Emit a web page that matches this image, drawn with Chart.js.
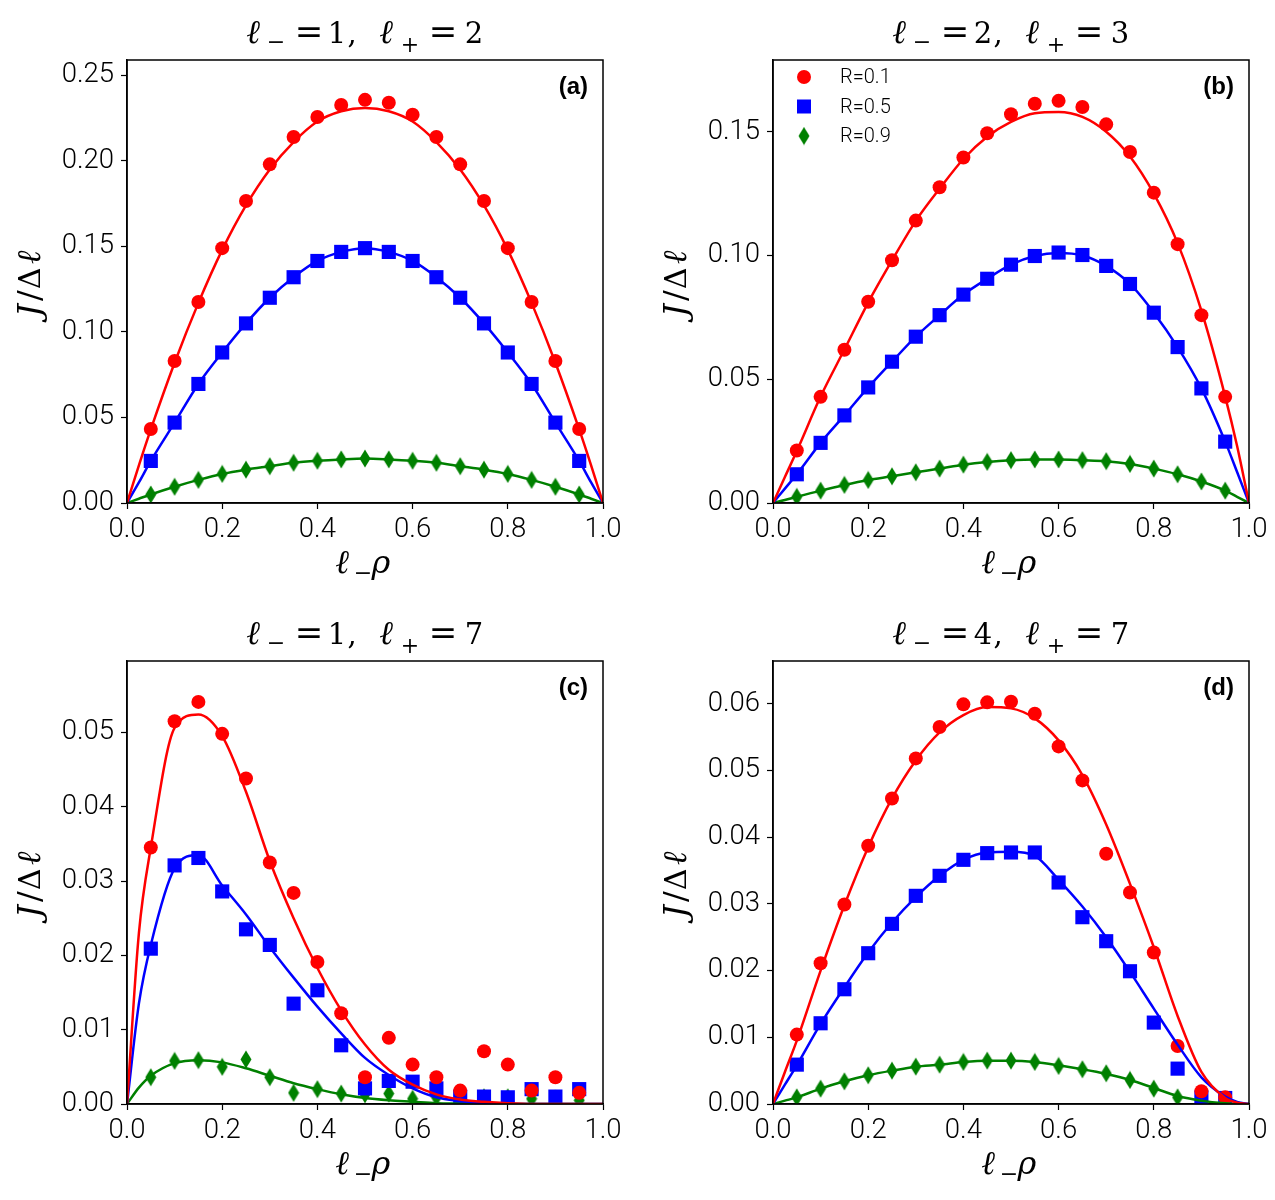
<!DOCTYPE html>
<html>
<head>
<meta charset="utf-8">
<script src="https://cdn.jsdelivr.net/npm/chart.js@4.4.1/dist/chart.umd.min.js"></script>
<style>
  body { margin: 0; background: #fff; width: 1275px; height: 1200px; position: relative; overflow: hidden; }
  canvas.panel { position: absolute; }
</style>
</head>
<body>
<canvas id="pa" class="panel" width="637" height="600" style="left:0px;top:0px"></canvas>
<canvas id="pb" class="panel" width="638" height="600" style="left:637px;top:0px"></canvas>
<canvas id="pc" class="panel" width="637" height="600" style="left:0px;top:600px"></canvas>
<canvas id="pd" class="panel" width="638" height="600" style="left:637px;top:600px"></canvas>
<script>
// x positions of the simulation points and of the theory curves
var xMarks = [0.05, 0.1, 0.15, 0.2, 0.25, 0.3, 0.35, 0.4, 0.45, 0.5, 0.55, 0.6, 0.65, 0.7, 0.75, 0.8, 0.85, 0.9, 0.95];
var xCurve = [0, 0.025, 0.05, 0.1, 0.15, 0.2, 0.25, 0.3, 0.35, 0.4, 0.45, 0.5, 0.55, 0.6, 0.65, 0.7, 0.75, 0.8, 0.85, 0.9, 0.95, 0.975, 1];
var xTicks = [0, 0.2, 0.4, 0.6, 0.8, 1.0];
var seriesLabels = ['R=0.1', 'R=0.5', 'R=0.9'];

// (a) l- = 1, l+ = 2
var aRed   = [0.0433, 0.083, 0.1175, 0.149, 0.1766, 0.198, 0.214, 0.2257, 0.2327, 0.2357, 0.234, 0.227, 0.214, 0.198, 0.1766, 0.149, 0.1175, 0.083, 0.0433];
var aBlue  = [0.0246, 0.047, 0.0696, 0.088, 0.105, 0.120, 0.132, 0.1415, 0.1468, 0.149, 0.1468, 0.1415, 0.132, 0.120, 0.105, 0.088, 0.0696, 0.047, 0.0246];
var aGreen = [0.005, 0.0095, 0.0135, 0.017, 0.0195, 0.0215, 0.0235, 0.0247, 0.0255, 0.026, 0.0255, 0.0247, 0.0235, 0.0215, 0.0195, 0.017, 0.0135, 0.0095, 0.005];
var aRedFit   = [0, 0.022, 0.043, 0.082, 0.117, 0.148, 0.174, 0.195, 0.211, 0.223, 0.229, 0.231, 0.229, 0.223, 0.211, 0.195, 0.174, 0.148, 0.117, 0.082, 0.043, 0.022, 0];
var aBlueFit  = [0, 0.012, 0.0246, 0.047, 0.0696, 0.088, 0.105, 0.120, 0.132, 0.1415, 0.1468, 0.149, 0.1468, 0.1415, 0.132, 0.120, 0.105, 0.088, 0.0696, 0.047, 0.0246, 0.012, 0];
var aGreenFit = [0, 0.0025, 0.005, 0.0095, 0.0135, 0.017, 0.0195, 0.0215, 0.0235, 0.0247, 0.0255, 0.026, 0.0255, 0.0247, 0.0235, 0.0215, 0.0195, 0.017, 0.0135, 0.0095, 0.005, 0.0025, 0];
var aYTicks = [0, 0.05, 0.10, 0.15, 0.20, 0.25];

// (b) l- = 2, l+ = 3
var bRed   = [0.0212, 0.0429, 0.0619, 0.0813, 0.0981, 0.1141, 0.1276, 0.1396, 0.1494, 0.1571, 0.1613, 0.1625, 0.160, 0.153, 0.1418, 0.1254, 0.1046, 0.0759, 0.0429];
var bBlue  = [0.0116, 0.0243, 0.0354, 0.0467, 0.0571, 0.0672, 0.0759, 0.0842, 0.0906, 0.0963, 0.0998, 0.1012, 0.1002, 0.0958, 0.0885, 0.0769, 0.063, 0.0463, 0.0248];
var bGreen = [0.0025, 0.005, 0.0073, 0.0093, 0.0108, 0.0124, 0.0139, 0.0155, 0.0166, 0.0173, 0.0176, 0.0176, 0.0173, 0.0169, 0.0158, 0.0139, 0.0116, 0.0087, 0.005];
var bRedFit   = [0, 0.0105, 0.021, 0.043, 0.062, 0.081, 0.098, 0.114, 0.127, 0.139, 0.148, 0.154, 0.1575, 0.158, 0.156, 0.150, 0.140, 0.125, 0.105, 0.0777, 0.043, 0.023, 0];
var bBlueFit  = [0, 0.0058, 0.0116, 0.0243, 0.0354, 0.0467, 0.0571, 0.0672, 0.0759, 0.0842, 0.0906, 0.0963, 0.0998, 0.1010, 0.1000, 0.0958, 0.0885, 0.0769, 0.063, 0.0463, 0.0248, 0.0125, 0];
var bGreenFit = [0, 0.0012, 0.0025, 0.005, 0.0073, 0.0093, 0.0108, 0.0124, 0.0139, 0.0155, 0.0166, 0.0173, 0.0176, 0.0176, 0.0173, 0.0169, 0.0158, 0.0139, 0.0116, 0.0087, 0.005, 0.0025, 0];
var bYTicks = [0, 0.05, 0.10, 0.15];

// (c) l- = 1, l+ = 7
var cRed   = [0.0345, 0.0515, 0.0541, 0.0498, 0.0438, 0.0325, 0.0284, 0.0191, 0.0122, 0.0036, 0.0089, 0.0053, 0.0036, 0.0018, 0.0071, 0.0053, 0.0018, 0.0036, 0.0015];
var cBlue  = [0.0209, 0.0321, 0.0331, 0.0286, 0.0235, 0.0214, 0.0135, 0.0153, 0.0079, 0.0021, 0.0031, 0.003, 0.0021, 0.001, 0.001, 0.0009, 0.002, 0.001, 0.002];
var cGreen = [0.0036, 0.0058, 0.0059, 0.005, 0.006, 0.0036, 0.0015, 0.002, 0.0014, 0.0013, 0.0014, 0.0007, 0.0009, 0.0009, 0.0009, 0.0009, 0.0007, 0.0007, 0.0005];
var cRedFit   = [0, 0.023, 0.0345, 0.0506, 0.0524, 0.0495, 0.042, 0.0327, 0.025, 0.0183, 0.0126, 0.008, 0.0046, 0.0026, 0.0013, 0.0006, 0.0003, 0.0001, 0, 0, 0, 0, 0];
var cBlueFit  = [0, 0.0135, 0.0214, 0.0317, 0.0335, 0.0294, 0.0255, 0.0211, 0.017, 0.0131, 0.0095, 0.0062, 0.0039, 0.0021, 0.0009, 0.0004, 0.0001, 0, 0, 0, 0, 0, 0];
var cGreenFit = [0, 0.0022, 0.0038, 0.0055, 0.0059, 0.0056, 0.0048, 0.0038, 0.0028, 0.002, 0.0013, 0.0008, 0.0005, 0.0003, 0.0001, 0.00005, 0, 0, 0, 0, 0, 0, 0];
var cYTicks = [0, 0.01, 0.02, 0.03, 0.04, 0.05];

// (d) l- = 4, l+ = 7
var dRed   = [0.0104, 0.0211, 0.0299, 0.0387, 0.0458, 0.0518, 0.0565, 0.0599, 0.0602, 0.0603, 0.0585, 0.0536, 0.0485, 0.0375, 0.0317, 0.0227, 0.0087, 0.0019, 0.001];
var dBlue  = [0.0059, 0.0121, 0.0172, 0.0226, 0.027, 0.0312, 0.0342, 0.0366, 0.0376, 0.0377, 0.0377, 0.0332, 0.028, 0.0244, 0.0199, 0.0122, 0.0053, 0.001, 0.0009];
var dGreen = [0.001, 0.0023, 0.0034, 0.0043, 0.005, 0.0056, 0.0059, 0.0063, 0.0065, 0.0065, 0.0063, 0.0057, 0.0052, 0.0046, 0.0036, 0.0023, 0.001, 0.0007, 0.0005];
var dRedFit   = [0, 0.0048, 0.0095, 0.02, 0.0298, 0.0385, 0.0458, 0.0515, 0.0557, 0.0583, 0.0595, 0.0593, 0.0578, 0.0545, 0.0493, 0.0419, 0.033, 0.0235, 0.0132, 0.0048, 0.0009, 0.0002, 0];
var dBlueFit  = [0, 0.0029, 0.0058, 0.012, 0.0175, 0.0227, 0.0272, 0.031, 0.0342, 0.0366, 0.0377, 0.0378, 0.0372, 0.0336, 0.0296, 0.025, 0.0198, 0.0143, 0.0089, 0.004, 0.0011, 0.0003, 0];
var dGreenFit = [0, 0.0005, 0.001, 0.0023, 0.0034, 0.0043, 0.005, 0.0056, 0.0059, 0.0063, 0.0065, 0.0065, 0.0063, 0.0058, 0.0052, 0.0045, 0.0036, 0.0024, 0.0012, 0.0005, 0.0001, 0, 0];
var dYTicks = [0, 0.01, 0.02, 0.03, 0.04, 0.05, 0.06];

var RED = '#ff0000', BLUE = '#0000ff', GREEN = '#008000';
var TICK_FONT = '"Roboto", "Liberation Sans", sans-serif';
var MATH_FONT = '"DejaVu Serif", serif';

// thin diamond marker (matplotlib 'd')
function makeDiamond(color) {
    var c = document.createElement('canvas');
    c.width = 12; c.height = 19;
    var g = c.getContext('2d');
    g.fillStyle = color;
    g.beginPath();
    g.moveTo(6, 0.5); g.lineTo(11.5, 9.5); g.lineTo(6, 18.5); g.lineTo(0.5, 9.5);
    g.closePath(); g.fill();
    return c;
}
var diamond = makeDiamond(GREEN);

function pts(xs, ys) {
    return xs.map(function (x, i) { return {x: x, y: ys[i]}; });
}

// math glyphs placed one by one (centre offset dx, baseline offset dy), mathtext-like spacing
function drawPieces(ctx, pieces, x, y) {
    ctx.textAlign = 'center';
    ctx.textBaseline = 'alphabetic';
    pieces.forEach(function (p) {
        ctx.font = (p.it ? 'italic ' : '') + p.size + 'px ' + MATH_FONT;
        ctx.fillText(p.t, x + p.dx, y + (p.dy || 0));
    });
}

function titlePieces(lm, lp) {
    return [
        {t: 'ℓ', it: true, size: 33, dx: -112},
        {t: '−', size: 22, dx: -89, dy: 6},
        {t: '=', size: 34, dx: -56},
        {t: String(lm), size: 29, dx: -28},
        {t: ',', size: 29, dx: -13},
        {t: 'ℓ', it: true, size: 33, dx: 21},
        {t: '+', size: 22, dx: 45, dy: 9},
        {t: '=', size: 34, dx: 78},
        {t: String(lp), size: 29, dx: 109}
    ];
}

var xLabelPieces = [
    {t: 'ℓ', it: true, size: 33, dx: -23},
    {t: '−', size: 22, dx: -2, dy: 7},
    {t: 'ρ', it: true, size: 32, dx: 16}
];

var yLabelPieces = [
    {t: 'J', it: true, size: 32, dx: -29},
    {t: '/', size: 32, dx: -14},
    {t: 'Δ', size: 30, dx: 3},
    {t: 'ℓ', it: true, size: 33, dx: 24}
];

var decor = {
    id: 'decor',
    afterDraw: function (chart, args, o) {
        var ctx = chart.ctx, a = chart.chartArea;
        var midX = (a.left + a.right) / 2, midY = (a.top + a.bottom) / 2;
        ctx.save();
        // frame
        ctx.strokeStyle = '#000';
        ctx.lineWidth = 1.5;
        ctx.strokeRect(a.left, a.top, a.right - a.left, a.bottom - a.top);
        ctx.fillStyle = '#000';
        // title
        drawPieces(ctx, titlePieces(o.lm, o.lp), midX, a.top - 17);
        // x label
        drawPieces(ctx, xLabelPieces, midX, a.bottom + 70);
        // y label
        ctx.save();
        ctx.translate(a.left - 87, midY);
        ctx.rotate(-Math.PI / 2);
        drawPieces(ctx, yLabelPieces, 0, 0);
        ctx.restore();
        // panel tag
        ctx.font = 'bold 24px "Liberation Sans", Arial, sans-serif';
        ctx.textAlign = 'right';
        ctx.textBaseline = 'middle';
        ctx.fillText(o.tag, a.right - 15, a.top + 27);
        // legend
        if (o.legend) {
            var lx = a.left + 31, ly = a.top + 17, gap = 29.5;
            ctx.fillStyle = RED;
            ctx.beginPath(); ctx.arc(lx, ly, 7, 0, Math.PI * 2); ctx.fill();
            ctx.fillStyle = BLUE;
            ctx.fillRect(lx - 7, ly + gap - 7, 14, 14);
            ctx.drawImage(diamond, lx - diamond.width / 2, ly + 2 * gap - diamond.height / 2);
            ctx.fillStyle = '#000';
            ctx.font = '300 20px ' + TICK_FONT;
            ctx.textAlign = 'left';
            ctx.textBaseline = 'middle';
            seriesLabels.forEach(function (s, i) { ctx.fillText(s, lx + 36, ly + i * gap + 1); });
        }
        ctx.restore();
    }
};

function makePanel(id, geo, marks, fits, yTicks, yMax, tag, lm, lp, legend) {
    var cv = document.getElementById(id);
    var W = cv.width, H = cv.height;
    var ds = [
        {data: pts(xMarks, marks[0]), backgroundColor: RED, borderWidth: 0, pointStyle: 'circle', pointRadius: 7, order: 1},
        {data: pts(xMarks, marks[1]), backgroundColor: BLUE, borderWidth: 0, pointStyle: 'rect', pointRadius: 10, order: 1},
        {data: pts(xMarks, marks[2]), backgroundColor: GREEN, borderWidth: 0, pointStyle: diamond, pointRadius: 8, order: 1}
    ];
    [RED, BLUE, GREEN].forEach(function (col, i) {
        ds.push({data: pts(xCurve, fits[i]), showLine: true, borderColor: col, borderWidth: 2.5,
                 pointRadius: 0, cubicInterpolationMode: 'monotone', order: 0});
    });
    return new Chart(cv, {
        type: 'scatter',
        data: {datasets: ds},
        options: {
            responsive: false,
            animation: false,
            devicePixelRatio: 1,
            layout: {padding: {left: 0, top: geo.t, right: W - geo.r, bottom: 0}},
            plugins: {legend: {display: false}, tooltip: {enabled: false}, decor: {tag: tag, lm: lm, lp: lp, legend: legend}},
            scales: {
                x: {
                    type: 'linear', min: 0, max: 1,
                    afterFit: function (s) { s.height = H - geo.b; },
                    afterBuildTicks: function (s) { s.ticks = xTicks.map(function (v) { return {value: v}; }); },
                    grid: {drawOnChartArea: false, drawTicks: true, tickLength: 6, tickColor: '#000', tickWidth: 1.2},
                    border: {display: true, color: '#000', width: 1.5},
                    ticks: {color: '#000', padding: 5, maxRotation: 0, font: {family: TICK_FONT, size: 27.5, weight: '300'},
                            callback: function (v) { return v.toFixed(1); }}
                },
                y: {
                    type: 'linear', min: 0, max: yMax,
                    afterFit: function (s) { s.width = geo.l; },
                    afterBuildTicks: function (s) { s.ticks = yTicks.map(function (v) { return {value: v}; }); },
                    grid: {drawOnChartArea: false, drawTicks: true, tickLength: 6, tickColor: '#000', tickWidth: 1.2},
                    border: {display: true, color: '#000', width: 1.5},
                    ticks: {color: '#000', padding: 7, font: {family: TICK_FONT, size: 27.5, weight: '300'},
                            callback: function (v) { return v.toFixed(2); }}
                }
            }
        },
        plugins: [decor]
    });
}

makePanel('pa', {l: 127, t: 60, r: 603, b: 503}, [aRed, aBlue, aGreen], [aRedFit, aBlueFit, aGreenFit], aYTicks, 0.259, '(a)', 1, 2, false);
makePanel('pb', {l: 136, t: 60, r: 612, b: 503}, [bRed, bBlue, bGreen], [bRedFit, bBlueFit, bGreenFit], bYTicks, 0.179, '(b)', 2, 3, true);
makePanel('pc', {l: 127, t: 61, r: 603, b: 504}, [cRed, cBlue, cGreen], [cRedFit, cBlueFit, cGreenFit], cYTicks, 0.0596, '(c)', 1, 7, false);
makePanel('pd', {l: 136, t: 61, r: 612, b: 504}, [dRed, dBlue, dGreen], [dRedFit, dBlueFit, dGreenFit], dYTicks, 0.0664, '(d)', 4, 7, false);
</script>
</body>
</html>
